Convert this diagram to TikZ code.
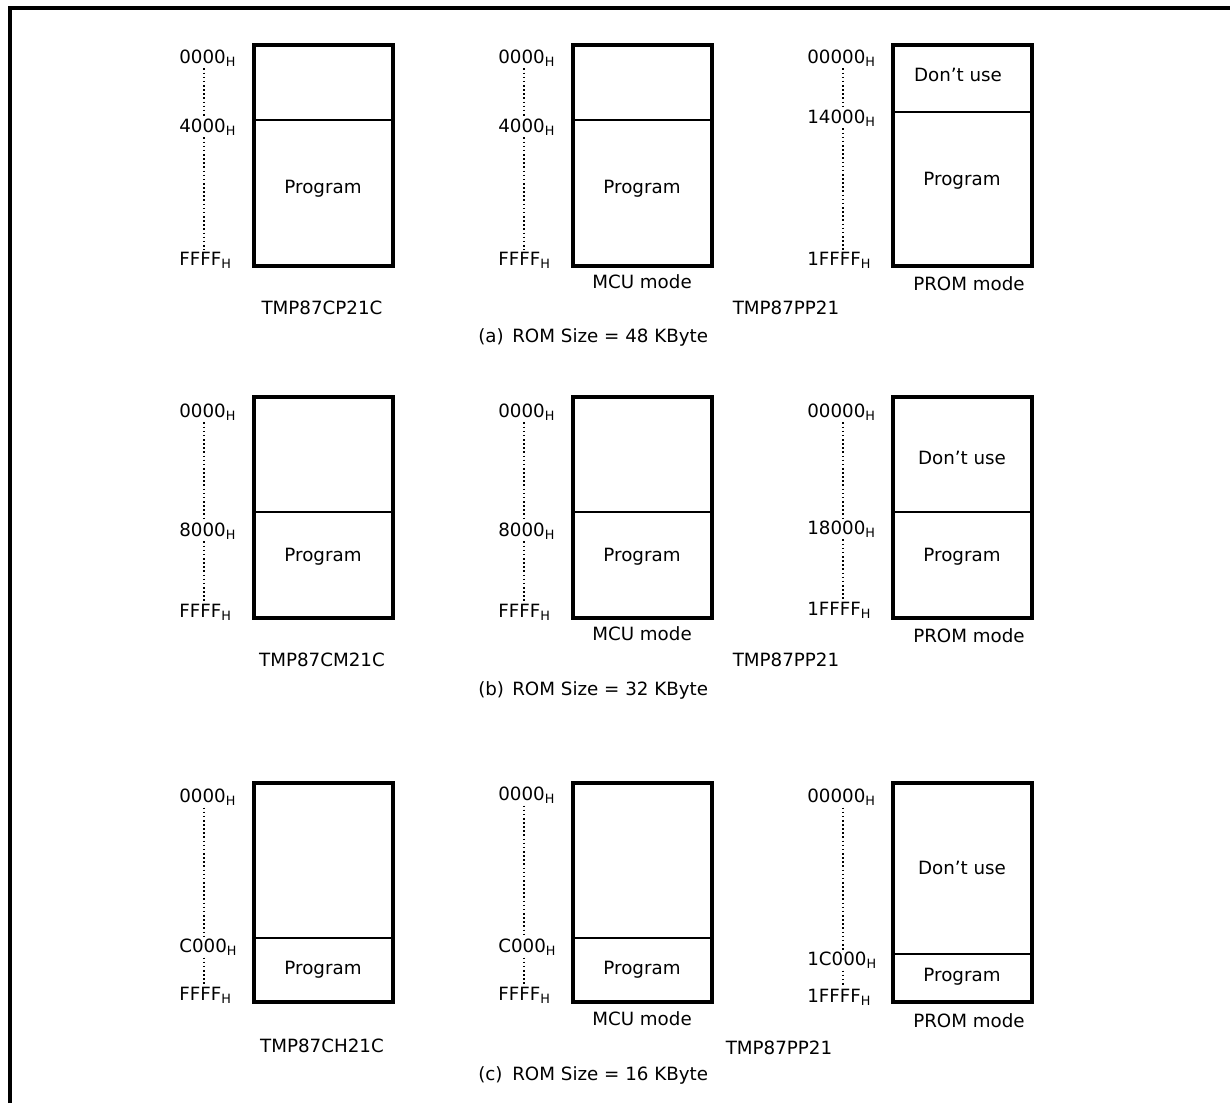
\documentclass[tikz,border=0pt]{standalone}
\usepackage{fontspec}
\setmainfont{DejaVu Sans}
\begin{document}
\begin{tikzpicture}[x=0.75pt,y=-0.75pt,
  membox/.style={draw, line width=3pt, minimum width=104.25pt, minimum height=165.75pt, inner sep=0pt, outer sep=0pt},
  divider/.style={line width=1.1pt},
  dots/.style={line width=1.2pt, dash pattern=on 1.2pt off 1.9pt},
  addr/.style={anchor=west, inner sep=1.5pt, font=\fontsize{13.7}{16}\selectfont},
  txt/.style={inner sep=0pt, font=\fontsize{13.7}{16}\selectfont},
  frameline/.style={line width=2.3pt}]
\useasboundingbox (0,0) rectangle (1230,1103);
% frame
\coordinate (fbl) at (10,1103);
\coordinate (ftl) at (10,8);
\coordinate (ftr) at (1230,8);
\draw[frameline] (fbl) -- (ftl) -- (ftr);

% ================= (a) =================
\node[membox] (a1) at (323.5,155.5) {};
\node[membox] (a2) at (642.5,155.5) {};
\node[membox] (a3) at (962,155.5) {};
\draw[divider] (a1.west |- 0,120) -- (a1.east |- 0,120);
\draw[divider] (a2.west |- 0,120) -- (a2.east |- 0,120);
\draw[divider] (a3.west |- 0,112) -- (a3.east |- 0,112);
\node[txt] (a1p) at (323,189) {Program};
\node[txt] (a2p) at (642,189) {Program};
\node[txt] (a3p) at (962,181) {Program};
\node[txt] (a3d) at (958,75) {Don’t use};
\node[addr] (a1l0) at (177,58) {0000\textsubscript{H}};
\node[addr] (a1l1) at (177,127) {4000\textsubscript{H}};
\node[addr] (a1l2) at (177,260) {FFFF\textsubscript{H}};
\node[addr] (a2l0) at (496,58) {0000\textsubscript{H}};
\node[addr] (a2l1) at (496,127) {4000\textsubscript{H}};
\node[addr] (a2l2) at (496,260) {FFFF\textsubscript{H}};
\node[addr] (a3l0) at (805,58) {00000\textsubscript{H}};
\node[addr] (a3l1) at (805,118) {14000\textsubscript{H}};
\node[addr] (a3l2) at (805,260) {1FFFF\textsubscript{H}};
\draw[dots] (a1l0.south -| 204,0) -- (a1l1.north -| 204,0);
\draw[dots] (a1l1.south -| 204,0) -- (a1l2.north -| 204,0);
\draw[dots] (a2l0.south -| 524,0) -- (a2l1.north -| 524,0);
\draw[dots] (a2l1.south -| 524,0) -- (a2l2.north -| 524,0);
\draw[dots] (a3l0.south -| 843,0) -- (a3l1.north -| 843,0);
\draw[dots] (a3l1.south -| 843,0) -- (a3l2.north -| 843,0);
\node[txt] (a1n) at (322,308) {TMP87CP21C};
\node[txt] (a2m) at (642,282) {MCU mode};
\node[txt] (a3n) at (786,308) {TMP87PP21};
\node[txt] (a3m) at (969,284) {PROM mode};
\node[txt, anchor=west] (acap) at (478,337) {(a)};
\node[txt, anchor=west] (acapt) at (512,337) {ROM Size = 48 KByte};

% ================= (b) =================
\node[membox] (b1) at (323.5,507) {};
\node[membox] (b2) at (642.5,507) {};
\node[membox] (b3) at (962,507) {};
\draw[divider] (b1.west |- 0,512) -- (b1.east |- 0,512);
\draw[divider] (b2.west |- 0,512) -- (b2.east |- 0,512);
\draw[divider] (b3.west |- 0,512) -- (b3.east |- 0,512);
\node[txt] (b1p) at (323,557) {Program};
\node[txt] (b2p) at (642,557) {Program};
\node[txt] (b3p) at (962,557) {Program};
\node[txt] (b3d) at (962,458) {Don’t use};
\node[addr] (b1l0) at (177,412) {0000\textsubscript{H}};
\node[addr] (b1l1) at (177,531) {8000\textsubscript{H}};
\node[addr] (b1l2) at (177,612) {FFFF\textsubscript{H}};
\node[addr] (b2l0) at (496,412) {0000\textsubscript{H}};
\node[addr] (b2l1) at (496,531) {8000\textsubscript{H}};
\node[addr] (b2l2) at (496,612) {FFFF\textsubscript{H}};
\node[addr] (b3l0) at (805,412) {00000\textsubscript{H}};
\node[addr] (b3l1) at (805,529) {18000\textsubscript{H}};
\node[addr] (b3l2) at (805,610) {1FFFF\textsubscript{H}};
\draw[dots] (b1l0.south -| 204,0) -- (b1l1.north -| 204,0);
\draw[dots] (b1l1.south -| 204,0) -- (b1l2.north -| 204,0);
\draw[dots] (b2l0.south -| 524,0) -- (b2l1.north -| 524,0);
\draw[dots] (b2l1.south -| 524,0) -- (b2l2.north -| 524,0);
\draw[dots] (b3l0.south -| 843,0) -- (b3l1.north -| 843,0);
\draw[dots] (b3l1.south -| 843,0) -- (b3l2.north -| 843,0);
\node[txt] (b1n) at (322,660) {TMP87CM21C};
\node[txt] (b2m) at (642,634) {MCU mode};
\node[txt] (b3n) at (786,660) {TMP87PP21};
\node[txt] (b3m) at (969,636) {PROM mode};
\node[txt, anchor=west] (bcap) at (478,690) {(b)};
\node[txt, anchor=west] (bcapt) at (512,690) {ROM Size = 32 KByte};

% ================= (c) =================
\node[membox, minimum height=164.25pt] (c1) at (323.5,892.5) {};
\node[membox, minimum height=164.25pt] (c2) at (642.5,892.5) {};
\node[membox, minimum height=164.25pt] (c3) at (962,892.5) {};
\draw[divider] (c1.west |- 0,938) -- (c1.east |- 0,938);
\draw[divider] (c2.west |- 0,938) -- (c2.east |- 0,938);
\draw[divider] (c3.west |- 0,954) -- (c3.east |- 0,954);
\node[txt] (c1p) at (323,970) {Program};
\node[txt] (c2p) at (642,970) {Program};
\node[txt] (c3p) at (962,977) {Program};
\node[txt] (c3d) at (962,868) {Don’t use};
\node[addr] (c1l0) at (177,797) {0000\textsubscript{H}};
\node[addr] (c1l1) at (177,947) {C000\textsubscript{H}};
\node[addr] (c1l2) at (177,995) {FFFF\textsubscript{H}};
\node[addr] (c2l0) at (496,795) {0000\textsubscript{H}};
\node[addr] (c2l1) at (496,947) {C000\textsubscript{H}};
\node[addr] (c2l2) at (496,995) {FFFF\textsubscript{H}};
\node[addr] (c3l0) at (805,797) {00000\textsubscript{H}};
\node[addr] (c3l1) at (805,960) {1C000\textsubscript{H}};
\node[addr] (c3l2) at (805,997) {1FFFF\textsubscript{H}};
\draw[dots] (c1l0.south -| 204,0) -- (c1l1.north -| 204,0);
\draw[dots] (c1l1.south -| 204,0) -- (c1l2.north -| 204,0);
\draw[dots] (c2l0.south -| 524,0) -- (c2l1.north -| 524,0);
\draw[dots] (c2l1.south -| 524,0) -- (c2l2.north -| 524,0);
\draw[dots] (c3l0.south -| 843,0) -- (c3l1.north -| 843,0);
\draw[dots] (c3l1.south -| 843,0) -- (c3l2.north -| 843,0);
\node[txt] (c1n) at (322,1046) {TMP87CH21C};
\node[txt] (c2m) at (642,1019) {MCU mode};
\node[txt] (c3n) at (779,1048) {TMP87PP21};
\node[txt] (c3m) at (969,1021) {PROM mode};
\node[txt, anchor=west] (ccap) at (478,1075) {(c)};
\node[txt, anchor=west] (ccapt) at (512,1075) {ROM Size = 16 KByte};
\end{tikzpicture}
\end{document}
